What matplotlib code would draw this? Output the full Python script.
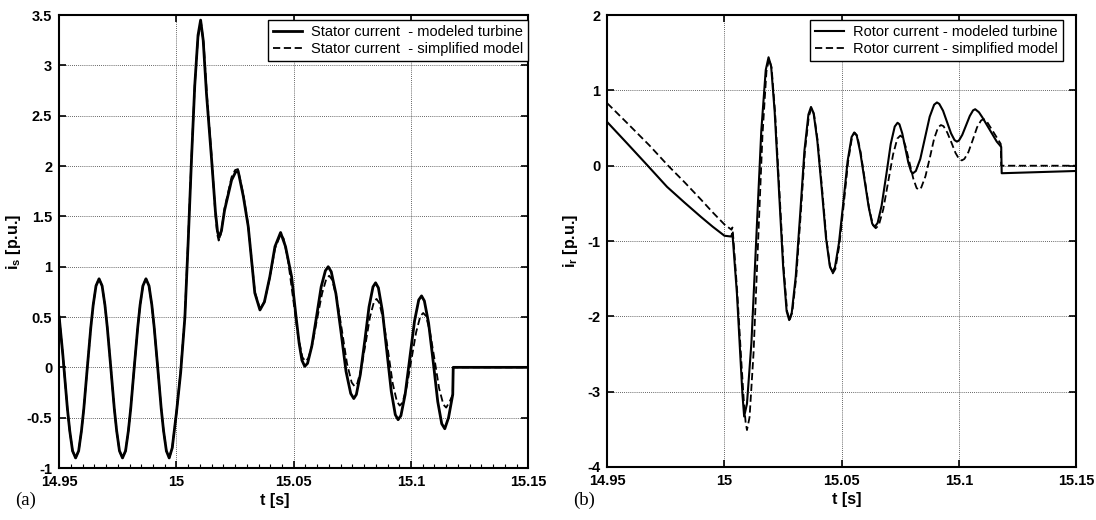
import matplotlib
matplotlib.use("Agg")
import matplotlib.pyplot as plt
from matplotlib.ticker import MultipleLocator, FormatStrFormatter

plt.rcParams["font.family"] = "Liberation Sans"
plt.rcParams["mathtext.fontset"] = "custom"
plt.rcParams["mathtext.bf"] = "Liberation Sans:bold"
plt.rcParams["mathtext.rm"] = "Liberation Sans"

# (a) stator current, modeled turbine
t_is_mod = [
    14.9500, 14.9515, 14.9535, 14.9545, 14.9557, 14.9570, 14.9583, 14.9595, 14.9605, 14.9620,
    14.9635, 14.9645, 14.9657, 14.9670, 14.9683, 14.9695, 14.9705, 14.9720,
    14.9735, 14.9745, 14.9757, 14.9770, 14.9783, 14.9795, 14.9805, 14.9820,
    14.9835, 14.9845, 14.9857, 14.9870, 14.9883, 14.9895, 14.9905, 14.9920,
    14.9935, 14.9945, 14.9957, 14.9969, 14.9982, 15.0000, 15.0018, 15.0036,
    15.0050, 15.0064, 15.0078, 15.0092, 15.0103, 15.0114, 15.0128, 15.0150,
    15.0166, 15.0175, 15.0182, 15.0192, 15.0205, 15.0235, 15.0252, 15.0263, 15.0285,
    15.0306, 15.0334, 15.0356, 15.0375, 15.0398, 15.0420, 15.0444, 15.0465,
    15.0491, 15.0510, 15.0523, 15.0535, 15.0547,
    15.0559, 15.0577, 15.0597, 15.0617, 15.0635, 15.0647,
    15.0660, 15.0680, 15.0702, 15.0723, 15.0743, 15.0756,
    15.0767, 15.0784, 15.0803, 15.0821, 15.0838, 15.0849,
    15.0861, 15.0878, 15.0897, 15.0916, 15.0933, 15.0945,
    15.0957, 15.0975, 15.0995, 15.1015, 15.1033, 15.1045,
    15.1057, 15.1075, 15.1095, 15.1114, 15.1131, 15.1144,
    15.1160, 15.1178, 15.1180, 15.1500]
is_mod = [
    0.50, 0.14, -0.41, -0.63, -0.83, -0.90, -0.83, -0.63, -0.41, 0.00,
    0.40, 0.62, 0.81, 0.88, 0.81, 0.62, 0.40, 0.00,
    -0.41, -0.63, -0.83, -0.90, -0.83, -0.63, -0.41, 0.00,
    0.40, 0.62, 0.81, 0.88, 0.81, 0.62, 0.40, 0.00,
    -0.41, -0.63, -0.83, -0.90, -0.80, -0.45, -0.05, 0.50,
    1.25, 2.06, 2.80, 3.30, 3.45, 3.25, 2.72, 2.06,
    1.55, 1.35, 1.29, 1.36, 1.56, 1.86, 1.94, 1.95, 1.70,
    1.40, 0.74, 0.57, 0.65, 0.90, 1.20, 1.34, 1.20,
    0.90, 0.50, 0.24, 0.07, 0.01,
    0.04, 0.21, 0.50, 0.80, 0.96, 1.00,
    0.95, 0.73, 0.345, -0.04, -0.26, -0.31,
    -0.27, -0.07, 0.265, 0.60, 0.80, 0.84,
    0.79, 0.56, 0.16, -0.24, -0.47, -0.52,
    -0.48, -0.27, 0.095, 0.46, 0.67, 0.71,
    0.66, 0.44, 0.05, -0.34, -0.56, -0.61,
    -0.50, -0.27, 0.00, 0.00]

# (a) stator current, simplified model
t_is_sim = [
    14.9500, 14.9515, 14.9535, 14.9545, 14.9557, 14.9570, 14.9583, 14.9595, 14.9605, 14.9620,
    14.9635, 14.9645, 14.9657, 14.9670, 14.9683, 14.9695, 14.9705, 14.9720,
    14.9735, 14.9745, 14.9757, 14.9770, 14.9783, 14.9795, 14.9805, 14.9820,
    14.9835, 14.9845, 14.9857, 14.9870, 14.9883, 14.9895, 14.9905, 14.9920,
    14.9935, 14.9945, 14.9957, 14.9969, 14.9982, 15.0000, 15.0018, 15.0036,
    15.0050, 15.0064, 15.0078, 15.0092, 15.0105, 15.0116, 15.0130, 15.0150,
    15.0165, 15.0174, 15.0180, 15.0190, 15.0205, 15.0235, 15.0250, 15.0262, 15.0285,
    15.0306, 15.0334, 15.0356, 15.0375, 15.0398, 15.0420, 15.0444,
    15.0457, 15.0476, 15.0497, 15.0518, 15.0537, 15.0550,
    15.0562, 15.0580, 15.0600, 15.0621, 15.0639, 15.0651,
    15.0664, 15.0684, 15.0706, 15.0727, 15.0747, 15.0760,
    15.0771, 15.0788, 15.0807, 15.0825, 15.0842, 15.0853,
    15.0865, 15.0883, 15.0903, 15.0922, 15.0940, 15.0952,
    15.0964, 15.0982, 15.1002, 15.1022, 15.1040, 15.1052,
    15.1064, 15.1081, 15.1101, 15.1120, 15.1138, 15.1150,
    15.1165, 15.1178, 15.1180, 15.1500]
is_sim = [
    0.50, 0.14, -0.41, -0.63, -0.83, -0.90, -0.83, -0.63, -0.41, 0.00,
    0.40, 0.62, 0.81, 0.88, 0.81, 0.62, 0.40, 0.00,
    -0.41, -0.63, -0.83, -0.90, -0.83, -0.63, -0.41, 0.00,
    0.40, 0.62, 0.81, 0.88, 0.81, 0.62, 0.40, 0.00,
    -0.41, -0.63, -0.83, -0.90, -0.80, -0.45, -0.03, 0.52,
    1.28, 2.08, 2.80, 3.28, 3.42, 3.22, 2.70, 2.10,
    1.55, 1.32, 1.26, 1.33, 1.58, 1.89, 1.96, 1.97, 1.72,
    1.41, 0.75, 0.58, 0.65, 0.89, 1.18, 1.32,
    1.28, 1.06, 0.69, 0.32, 0.10, 0.06,
    0.09, 0.235, 0.485, 0.735, 0.88, 0.91,
    0.87, 0.68, 0.36, 0.04, -0.15, -0.19,
    -0.16, -0.01, 0.245, 0.50, 0.65, 0.68,
    0.64, 0.46, 0.15, -0.16, -0.34, -0.38,
    -0.35, -0.19, 0.08, 0.35, 0.51, 0.54,
    0.51, 0.35, 0.07, -0.21, -0.37, -0.40,
    -0.34, -0.27, 0.00, 0.00]

# (b) rotor current, modeled turbine
t_ir_mod = [
    14.9500, 14.9584, 14.9670, 14.9755, 14.9830, 14.9900, 14.9950, 15.0000, 15.0028, 15.0034,
    15.0040, 15.0053, 15.0067, 15.0077, 15.0084,
    15.0096, 15.0115, 15.0136, 15.0157, 15.0176, 15.0188,
    15.0199, 15.0214, 15.0232, 15.0250, 15.0265, 15.0276,
    15.0287, 15.0304, 15.0323, 15.0341, 15.0358, 15.0369,
    15.0380, 15.0396, 15.0415, 15.0433, 15.0449, 15.0460,
    15.0471, 15.0488, 15.0507, 15.0525, 15.0542, 15.0553,
    15.0564, 15.0579, 15.0597, 15.0615, 15.0630, 15.0641,
    15.0653, 15.0670, 15.0690, 15.0709, 15.0726, 15.0738,
    15.0746, 15.0758, 15.0771, 15.0784, 15.0796, 15.0804,
    15.0816, 15.0835, 15.0855, 15.0875, 15.0894, 15.0906,
    15.0916, 15.0932, 15.0949, 15.0966, 15.0981, 15.0991,
    15.1000, 15.1014, 15.1030, 15.1046, 15.1060, 15.1069,
    15.1085, 15.1100, 15.1119, 15.1140, 15.1161, 15.1180, 15.1182, 15.1500]
ir_mod = [
    0.58, 0.30, 0.01, -0.28, -0.49, -0.68, -0.81, -0.93, -0.94, -0.90,
    -1.15, -1.69, -2.49, -3.05, -3.33,
    -3.16, -2.35, -0.945, 0.46, 1.27, 1.44,
    1.32, 0.72, -0.305, -1.33, -1.93, -2.05,
    -1.95, -1.47, -0.635, 0.20, 0.68, 0.78,
    0.70, 0.33, -0.315, -0.96, -1.33, -1.41,
    -1.35, -1.03, -0.485, 0.06, 0.38, 0.44,
    0.40, 0.18, -0.185, -0.55, -0.77, -0.81,
    -0.76, -0.53, -0.12, 0.29, 0.52, 0.57,
    0.55, 0.43, 0.235, 0.04, -0.08, -0.10,
    -0.07, 0.09, 0.37, 0.65, 0.81, 0.84,
    0.82, 0.73, 0.58, 0.43, 0.34, 0.32,
    0.335, 0.41, 0.535, 0.66, 0.735, 0.75,
    0.71, 0.64, 0.54, 0.43, 0.32, 0.25, -0.10, -0.07]

# (b) rotor current, simplified model
t_ir_sim = [
    14.9500, 14.9584, 14.9680, 14.9760, 14.9830, 14.9900, 14.9950, 15.0000, 15.0030, 15.0034,
    15.0040, 15.0055, 15.0070, 15.0082, 15.0090, 15.0096,
    15.0107, 15.0124, 15.0143, 15.0162, 15.0179, 15.0190,
    15.0201, 15.0216, 15.0234, 15.0252, 15.0267, 15.0278,
    15.0289, 15.0306, 15.0325, 15.0343, 15.0360, 15.0371,
    15.0382, 15.0398, 15.0417, 15.0435, 15.0451, 15.0462,
    15.0473, 15.0490, 15.0509, 15.0527, 15.0544, 15.0555,
    15.0566, 15.0581, 15.0599, 15.0617, 15.0633, 15.0645,
    15.0658, 15.0677, 15.0698, 15.0719, 15.0737, 15.0750,
    15.0759, 15.0773, 15.0789, 15.0805, 15.0819, 15.0828,
    15.0839, 15.0857, 15.0876, 15.0894, 15.0911, 15.0923,
    15.0934, 15.0950, 15.0968, 15.0985, 15.1001, 15.1012,
    15.1023, 15.1040, 15.1059, 15.1077, 15.1094, 15.1105,
    15.1120, 15.1140, 15.1160, 15.1178, 15.1180, 15.1500]
ir_sim = [
    0.83, 0.57, 0.27, 0.00, -0.22, -0.45, -0.62, -0.78, -0.85, -0.82,
    -1.05, -1.70, -2.50, -3.10, -3.40, -3.51,
    -3.34, -2.49, -1.045, 0.40, 1.25, 1.42,
    1.30, 0.70, -0.32, -1.34, -1.93, -2.05,
    -1.95, -1.48, -0.65, 0.19, 0.66, 0.76,
    0.68, 0.32, -0.33, -0.98, -1.35, -1.43,
    -1.37, -1.05, -0.50, 0.05, 0.38, 0.44,
    0.40, 0.17, -0.20, -0.57, -0.79, -0.83,
    -0.79, -0.58, -0.215, 0.15, 0.36, 0.40,
    0.375, 0.25, 0.04, -0.17, -0.295, -0.32,
    -0.29, -0.14, 0.11, 0.36, 0.51, 0.54,
    0.525, 0.44, 0.305, 0.17, 0.085, 0.07,
    0.09, 0.18, 0.345, 0.51, 0.60, 0.62,
    0.58, 0.48, 0.38, 0.29, 0.00, 0.00]

x_ticks = [14.95, 15.0, 15.05, 15.1, 15.15]
labels_a = ["Stator current  - modeled turbine", "Stator current  - simplified model"]
labels_b = ["Rotor current - modeled turbine", "Rotor current - simplified model"]


def style_axes(ax, ylim, ystep):
    ax.set_xlim(14.95, 15.15)
    ax.set_ylim(*ylim)
    ax.set_xticks(x_ticks)
    ax.yaxis.set_major_locator(MultipleLocator(ystep))
    ax.xaxis.set_major_formatter(FormatStrFormatter("%g"))
    ax.yaxis.set_major_formatter(FormatStrFormatter("%g"))
    ax.grid(True, linestyle=(0, (1, 1.5)), color="0.2", linewidth=0.6)
    ax.tick_params(which="major", direction="in", length=5, width=1.2,
                   top=True, right=True, labelsize=10.5, pad=5)
    for lbl in ax.get_xticklabels() + ax.get_yticklabels():
        lbl.set_fontweight("bold")
    for sp in ax.spines.values():
        sp.set_linewidth(1.5)


def add_legend(ax, xr):
    leg = ax.legend(loc="upper right", bbox_to_anchor=(xr, 0.989), borderaxespad=0,
                    fontsize=10.5, handlelength=2.0, handletextpad=0.6, labelspacing=0.2,
                    borderpad=0.35, fancybox=False, framealpha=1, edgecolor="k")
    leg.get_frame().set_linewidth(1.0)
    return leg


fig = plt.figure(figsize=(10.96, 5.2), dpi=100)
ax1 = fig.add_axes([0.054, 0.100, 0.428, 0.871])
ax2 = fig.add_axes([0.554, 0.102, 0.428, 0.869])

# stator current panel
ax1.plot(t_is_mod, is_mod, color="k", lw=2.0, label=labels_a[0])
ax1.plot(t_is_sim, is_sim, color="k", lw=1.3, dashes=(4, 2), label=labels_a[1])
style_axes(ax1, (-1, 3.5), 0.5)
ax1.xaxis.set_minor_locator(MultipleLocator(0.005))
ax1.tick_params(which="minor", direction="in", length=3, width=0.8, bottom=True, top=False)
ax1.set_xlabel("t [s]", fontsize=11.5, fontweight="bold")
ax1.xaxis.set_label_coords(0.46, -0.056)
ax1.set_ylabel(r"i$_\mathbf{s}$ [p.u.]", fontsize=11.5, fontweight="bold")
ax1.yaxis.set_label_coords(-0.078, 0.5)
add_legend(ax1, 1.0)

# rotor current panel
ax2.plot(t_ir_mod, ir_mod, color="k", lw=1.5, label=labels_b[0])
ax2.plot(t_ir_sim, ir_sim, color="k", lw=1.3, dashes=(4, 2), label=labels_b[1])
style_axes(ax2, (-4, 2), 1)
ax2.set_xlabel("t [s]", fontsize=11.5, fontweight="bold")
ax2.xaxis.set_label_coords(0.51, -0.056)
ax2.set_ylabel(r"i$_\mathbf{r}$ [p.u.]", fontsize=11.5, fontweight="bold")
ax2.yaxis.set_label_coords(-0.058, 0.5)
add_legend(ax2, 0.972)

fig.text(0.014, 0.038, "(a)", fontsize=13.5, family="Liberation Serif", va="center")
fig.text(0.523, 0.038, "(b)", fontsize=13.5, family="Liberation Serif", va="center")

fig.savefig("out.png", dpi=100)
